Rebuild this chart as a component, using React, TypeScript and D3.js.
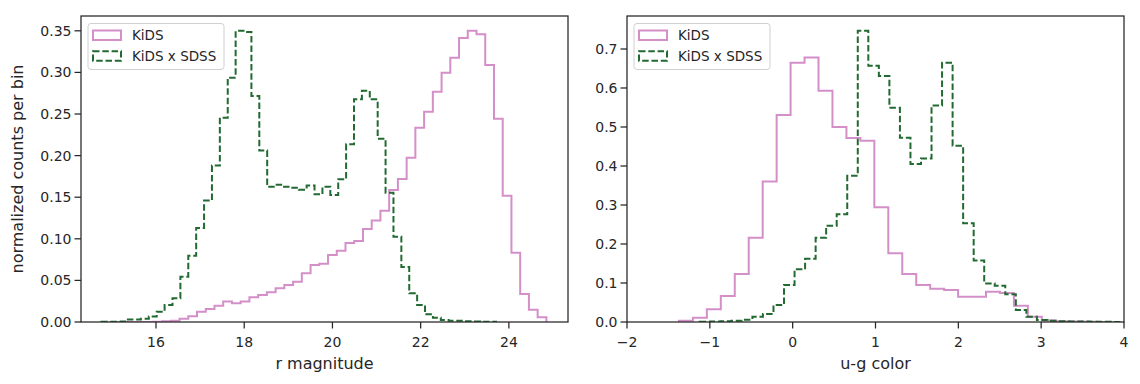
import React from "react";
import * as d3 from "d3";

const W = 1140;
const H = 384;

// r magnitude histograms (left panel), each with its own 50 equal bins
const rKidsStart = 14.95;
const rKidsWidth = 0.198;
const rKids = [
  0, 0, 0, 0, 0, 0.0003, 0.0008, 0.0016, 0.004, 0.007, 0.0124, 0.0156, 0.0196, 0.0245, 0.0224, 0.0245,
  0.0296, 0.0325, 0.0357, 0.0405, 0.0445, 0.0485, 0.0585, 0.0685, 0.07, 0.0806, 0.0857, 0.095, 0.0974,
  0.1118, 0.122, 0.1338, 0.1587, 0.172, 0.1975, 0.2336, 0.2528, 0.2768, 0.2996, 0.3177, 0.3413, 0.35,
  0.3458, 0.3089, 0.2444, 0.1518, 0.0833, 0.0337, 0.0148, 0.0056,
];
const rSdssStart = 14.764;
const rSdssWidth = 0.1789;
const rSdss = [
  0.0003, 0.0004, 0.0005, 0.003, 0.003, 0.004, 0.0067, 0.0124, 0.0204, 0.0284, 0.0545, 0.0797, 0.113,
  0.146, 0.188, 0.2456, 0.2937, 0.35, 0.3485, 0.2716, 0.206, 0.1627, 0.165, 0.1627, 0.1615, 0.159, 0.164,
  0.1535, 0.1627, 0.1527, 0.1715, 0.2135, 0.2676, 0.278, 0.2676, 0.2204, 0.1555, 0.1026, 0.0661, 0.0345,
  0.0205, 0.0092, 0.0052, 0.0024, 0.0016, 0.0016, 0.001, 0.0006, 0.0004, 0.0002,
];

// u-g color histograms (right panel)
const ugKidsStart = -1.373;
const ugKidsWidth = 0.1685;
const ugKids = [
  0.0034, 0.011, 0.0325, 0.0667, 0.123, 0.216, 0.36, 0.531, 0.665, 0.678, 0.593, 0.5, 0.472, 0.465, 0.294,
  0.176, 0.123, 0.095, 0.0855, 0.0821, 0.065, 0.065, 0.0778, 0.0745, 0.0419, 0.0137, 0.004, 0.002, 0.001,
  0.0006, 0.0003,
];
const ugSdssStart = -1.122;
const ugSdssWidth = 0.1272;
const ugSdss = [
  0.0005, 0.001, 0.002, 0.003, 0.006, 0.0137, 0.0205, 0.0436, 0.095, 0.135, 0.162, 0.216, 0.247, 0.276,
  0.375, 0.747, 0.657, 0.631, 0.5496, 0.4726, 0.405, 0.419, 0.555, 0.665, 0.452, 0.253, 0.158, 0.099, 0.093,
  0.071, 0.031, 0.0137, 0.005, 0.003, 0.002, 0.0015, 0.001, 0.0008, 0.0005, 0.0003, 0.0002,
];

const rTicksX = [16, 18, 20, 22, 24];
const rTicksY = [0, 0.05, 0.1, 0.15, 0.2, 0.25, 0.3, 0.35];
const ugTicksX = [-2, -1, 0, 1, 2, 3, 4];
const ugTicksY = [0, 0.1, 0.2, 0.3, 0.4, 0.5, 0.6, 0.7];

const legendLabels = ["KiDS", "KiDS x SDSS"];

const PINK = "#d48fc9";
const GREEN = "#226a32";
const INK = "#262626";
const FONT = "DejaVu Sans, sans-serif";
const DASH = "6.5,2.8";

type Panel = {
  id: string;
  left: number;
  right: number;
  xDomain: [number, number];
  yMax: number;
  xTicks: number[];
  yTicks: number[];
  yFmt: (v: number) => string;
  xLabel: string;
  series: { start: number; width: number; values: number[]; color: string; dash?: string }[];
};

const top = 16;
const bottom = 322;

const stepPath = (
  x: d3.ScaleLinear<number, number>,
  y: d3.ScaleLinear<number, number>,
  start: number,
  width: number,
  values: number[]
) => {
  const pts: [number, number][] = [[start, 0]];
  values.forEach((v, i) => pts.push([start + i * width, v]));
  const end = start + values.length * width;
  pts.push([end, values[values.length - 1]]);
  pts.push([end, 0]);
  return (
    d3
      .line<[number, number]>()
      .x((d) => x(d[0]))
      .y((d) => y(d[1]))
      .curve(d3.curveStepAfter)(pts) || ""
  );
};

const PanelView = ({ p }: { p: Panel }) => {
  const x = d3.scaleLinear().domain(p.xDomain).range([p.left, p.right]);
  const y = d3.scaleLinear().domain([0, p.yMax]).range([bottom, top]);
  const fmtX = (v: number) => (v < 0 ? "\u2212" + Math.abs(v) : String(v));
  return (
    <g>
      <defs>
        <clipPath id={`clip-${p.id}`}>
          <rect x={p.left} y={top} width={p.right - p.left} height={bottom - top} />
        </clipPath>
      </defs>
      <g clipPath={`url(#clip-${p.id})`}>
        {p.series.map((s, i) => (
          <path
            key={i}
            d={stepPath(x, y, s.start, s.width, s.values)}
            fill="none"
            stroke={s.color}
            strokeWidth={2}
            strokeDasharray={s.dash}
            strokeLinejoin="miter"
          />
        ))}
      </g>
      <rect
        x={p.left}
        y={top}
        width={p.right - p.left}
        height={bottom - top}
        fill="none"
        stroke={INK}
        strokeWidth={1.25}
      />
      {p.xTicks.map((t) => (
        <g key={t} transform={`translate(${x(t)},${bottom})`}>
          <line y2={6.5} stroke={INK} strokeWidth={1.25} />
          <text y={25} textAnchor="middle" fontSize={14} fill={INK} fontFamily={FONT}>
            {fmtX(t)}
          </text>
        </g>
      ))}
      {p.yTicks.map((t) => (
        <g key={t} transform={`translate(${p.left},${y(t)})`}>
          <line x2={-6.5} stroke={INK} strokeWidth={1.25} />
          <text x={-9.5} dy="0.35em" textAnchor="end" fontSize={14} fill={INK} fontFamily={FONT}>
            {p.yFmt(t)}
          </text>
        </g>
      ))}
      <text
        x={(p.left + p.right) / 2}
        y={369}
        textAnchor="middle"
        fontSize={16}
        fill={INK}
        fontFamily={FONT}
      >
        {p.xLabel}
      </text>
      <g transform={`translate(${p.left + 7},23.5)`}>
        <rect width={136} height={46} rx={3} fill="white" fillOpacity={0.8} stroke="#d0d0d0" />
        {legendLabels.map((lab, i) => (
          <g key={lab} transform={`translate(0,${i * 20.7})`}>
            <rect
              x={5}
              y={7}
              width={28}
              height={9.5}
              fill="none"
              stroke={p.series[i].color}
              strokeWidth={2}
              strokeDasharray={p.series[i].dash}
            />
            <text x={44} y={16.5} fontSize={13.5} fill={INK} fontFamily={FONT}>
              {lab}
            </text>
          </g>
        ))}
      </g>
    </g>
  );
};

const panels: Panel[] = [
  {
    id: "r",
    left: 81,
    right: 568,
    xDomain: [14.3, 25.34],
    yMax: 0.3678,
    xTicks: rTicksX,
    yTicks: rTicksY,
    yFmt: (v) => v.toFixed(2),
    xLabel: "r magnitude",
    series: [
      { start: rKidsStart, width: rKidsWidth, values: rKids, color: PINK },
      { start: rSdssStart, width: rSdssWidth, values: rSdss, color: GREEN, dash: DASH },
    ],
  },
  {
    id: "ug",
    left: 627,
    right: 1124,
    xDomain: [-2, 4],
    yMax: 0.7846,
    xTicks: ugTicksX,
    yTicks: ugTicksY,
    yFmt: (v) => v.toFixed(1),
    xLabel: "u-g color",
    series: [
      { start: ugKidsStart, width: ugKidsWidth, values: ugKids, color: PINK },
      { start: ugSdssStart, width: ugSdssWidth, values: ugSdss, color: GREEN, dash: DASH },
    ],
  },
];

export default function App() {
  return (
    <svg
      width={W}
      height={H}
      style={{ position: "absolute", left: 0, top: 0, background: "white" }}
    >
      {panels.map((p) => (
        <PanelView key={p.id} p={p} />
      ))}
      <text
        transform={`translate(23,${(top + bottom) / 2}) rotate(-90)`}
        textAnchor="middle"
        fontSize={16}
        fill={INK}
        fontFamily={FONT}
      >
        normalized counts per bin
      </text>
    </svg>
  );
}
